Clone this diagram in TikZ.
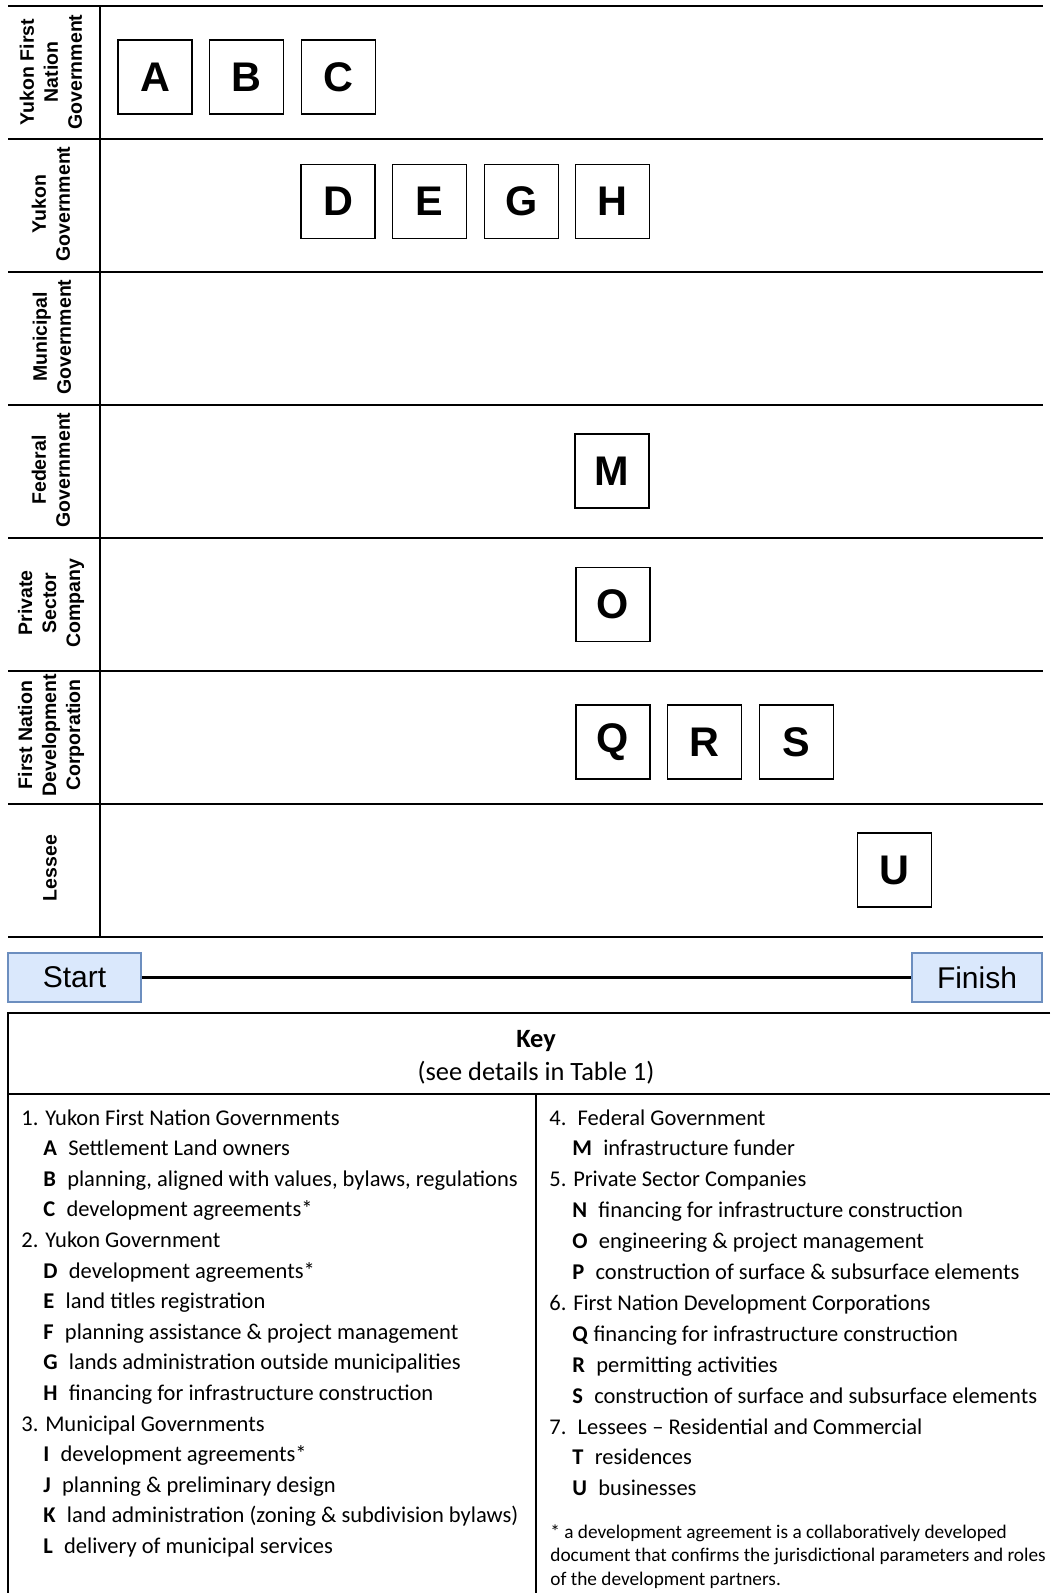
\documentclass[tikz,border=0pt]{standalone}
\usepackage{fontspec}
\setmainfont{Liberation Sans}
\newfontfamily\keyfont{Carlito}
\usepackage{tikz}
\usetikzlibrary{positioning}

\definecolor{startfill}{HTML}{DAE8FC}
\definecolor{startline}{HTML}{6C8EBF}

\begin{document}
\begin{tikzpicture}[x=0.5pt, y=-0.5pt,
  role/.style={draw, line width=0.6pt, minimum size=37pt, inner sep=0pt,
    font=\bfseries\fontsize{20.7}{24}\selectfont},
  lane/.style={rotate=90, align=center, inner sep=0pt,
    font=\bfseries\fontsize{9.75}{12}\selectfont},
  endbox/.style={draw=startline, fill=startfill, line width=0.6pt,
    minimum height=24.5pt, inner sep=0pt, font=\fontsize{15}{18}\selectfont},
  keyhead/.style={anchor=base west, inner sep=0pt,
    font=\keyfont\fontsize{11.25}{13.5}\selectfont},
  keyitem/.style={keyhead},
  keynote/.style={anchor=base west, inner sep=0pt,
    font=\keyfont\fontsize{9.65}{11.75}\selectfont},
  node distance=8.2pt]

  \useasboundingbox (0,0) rectangle (1050,1593);

  \foreach \i in {0,...,7}
    \draw[line width=0.85pt] (8,6+133*\i) -- (1043,6+133*\i);
  \draw[line width=0.85pt] (100,6) -- (100,937);

  \node[lane] (yfn) at (51,72) {Yukon First\\Nation\\Government};
  \node[lane] (yg) at (51,204) {Yukon\\Government};
  \node[lane] (mun) at (52,337) {Municipal\\Government};
  \node[lane] (fed) at (51,470) {Federal\\Government};
  \node[lane] (psc) at (51,603) {Private\\Sector\\Company};
  \node[lane] (fndc) at (51,735) {First Nation\\Development\\Corporation};
  \node[lane] (les) at (50,868) {Lessee};

  \node[role] (A) at (155,77) {A};
  \node[role, right=of A] (B) {B};
  \node[role, right=of B] (C) {C};
  \node[role] (D) at (338,201.5) {D};
  \node[role, right=of D] (E) {E};
  \node[role, right=of E] (G) {G};
  \node[role, right=of G] (H) {H};
  \node[role] (M) at (612,471) {M};
  \node[role] (O) at (613,604.7) {O};
  \node[role] (Q) at (613,742) {Q};
  \node[role, right=of Q] (R) {R};
  \node[role, right=of R] (S) {S};
  \node[role] (U) at (894.7,870) {U};

  \node[endbox, minimum width=66.5pt] (start) at (74.5,977.5) {Start};
  \node[endbox, minimum width=65pt] (finish) at (977,977.5) {Finish};
  \draw[line width=1.5pt] (start) -- (finish);

  \draw[line width=0.6pt] (1050,1013) -- (8,1013) -- (8,1593);
  \draw[line width=0.6pt] (8,1094) -- (1050,1094);
  \draw[line width=0.6pt] (536,1094) -- (536,1593);

  \node[anchor=base, inner sep=0pt, font=\keyfont\bfseries\fontsize{13.2}{15}\selectfont]
    (keytitle) at (536,1047) {Key};
  \node[anchor=base, inner sep=0pt, font=\keyfont\fontsize{13.2}{15}\selectfont]
    (keysub) at (536,1080) {(see details in Table 1)};

  \node[keyhead] (g1) at (21,1125) {1. Yukon First Nation Governments};
  \node[keyitem] (kA) at (43,1155.6) {\textbf{A}\enspace Settlement Land owners};
  \node[keyitem] (kB) at (43,1186.2) {\textbf{B}\enspace planning, aligned with values, bylaws, regulations};
  \node[keyitem] (kC) at (43,1216.8) {\textbf{C}\enspace development agreements*};
  \node[keyhead] (g2) at (21,1247.4) {2. Yukon Government};
  \node[keyitem] (kD) at (43,1278) {\textbf{D}\enspace development agreements*};
  \node[keyitem] (kE) at (43,1308.6) {\textbf{E}\enspace land titles registration};
  \node[keyitem] (kF) at (43,1339.2) {\textbf{F}\enspace planning assistance \& project management};
  \node[keyitem] (kG) at (43,1369.8) {\textbf{G}\enspace lands administration outside municipalities};
  \node[keyitem] (kH) at (43,1400.4) {\textbf{H}\enspace financing for infrastructure construction};
  \node[keyhead] (g3) at (21,1431) {3. Municipal Governments};
  \node[keyitem] (kI) at (43,1461.6) {\textbf{I}\enspace development agreements*};
  \node[keyitem] (kJ) at (43,1492.2) {\textbf{J}\enspace planning \& preliminary design};
  \node[keyitem] (kK) at (43,1522.8) {\textbf{K}\enspace land administration (zoning \& subdivision bylaws)};
  \node[keyitem] (kL) at (43,1553.4) {\textbf{L}\enspace delivery of municipal services};

  \node[keyhead] (g4) at (549,1125) {4.\enspace Federal Government};
  \node[keyitem] (kM) at (572,1155.9) {\textbf{M}\enspace infrastructure funder};
  \node[keyhead] (g5) at (549,1186.8) {5. Private Sector Companies};
  \node[keyitem] (kN) at (572,1217.7) {\textbf{N}\enspace financing for infrastructure construction};
  \node[keyitem] (kO) at (572,1248.6) {\textbf{O}\enspace engineering \& project management};
  \node[keyitem] (kP) at (572,1279.5) {\textbf{P}\enspace construction of surface \& subsurface elements};
  \node[keyhead] (g6) at (549,1310.4) {6. First Nation Development Corporations};
  \node[keyitem] (kQ) at (572,1341.3) {\textbf{Q} financing for infrastructure construction};
  \node[keyitem] (kR) at (572,1372.2) {\textbf{R}\enspace permitting activities};
  \node[keyitem] (kS) at (572,1403.1) {\textbf{S}\enspace construction of surface and subsurface elements};
  \node[keyhead] (g7) at (549,1434) {7.\enspace Lessees – Residential and Commercial};
  \node[keyitem] (kT) at (572,1464.9) {\textbf{T}\enspace residences};
  \node[keyitem] (kU) at (572,1495.8) {\textbf{U}\enspace businesses};

  \node[keynote] (note1) at (550,1538) {* a development agreement is a collaboratively developed};
  \node[keynote] (note2) at (550,1561.5) {document that confirms the jurisdictional parameters and roles};
  \node[keynote] (note3) at (550,1585) {of the development partners.};

\end{tikzpicture}
\end{document}
